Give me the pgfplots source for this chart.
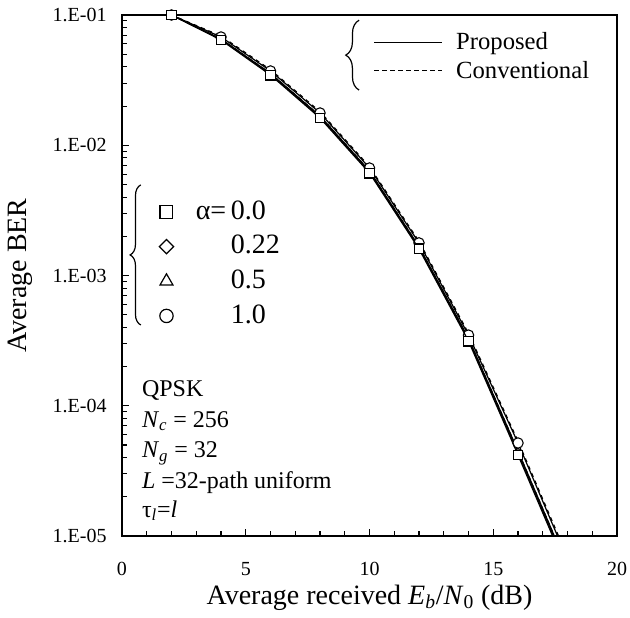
\documentclass[border=0pt]{standalone}
\usepackage{pgfplots}
\pgfplotsset{compat=1.18}
\usepackage{fontspec}
\setmainfont{Liberation Serif}
\usetikzlibrary{decorations.pathreplacing,calc}

\begin{document}
\begin{tikzpicture}
\begin{pgfinterruptboundingbox}
\begin{axis}[
  name=main,
  scale only axis,
  width=371.25pt, height=390.75pt,
  ymode=log,
  xmin=0, xmax=20,
  ymin=1e-5, ymax=1e-1,
  xtick={0,5,10,15,20},
  minor x tick num=4,
  ytick={1e-5,1e-4,1e-3,1e-2,1e-1},
  yticklabels={1.E-05,1.E-04,1.E-03,1.E-02,1.E-01},
  xtick pos=bottom, ytick pos=left,
  tick align=inside,
  major tick length=5pt, minor tick length=3.5pt,
  tick style={black, line width=0.8pt},
  axis line style={line width=0.9pt},
  /pgf/number format/assume math mode=true,
  ticklabel style={font=\fontsize{15}{17}\selectfont},
  xticklabel style={yshift=-16pt},
  yticklabel style={xshift=-8pt},
  xlabel={Average received \textit{E}\textsubscript{\textit{b}}/\textit{N}\textsubscript{0} (dB)},
  ylabel={Average BER},
  label style={font=\fontsize{21}{23}\selectfont},
  xlabel style={at={(axis description cs:0.5,-0.118)}, anchor=center},
  ylabel style={at={(axis description cs:-0.206,0.5)}, anchor=center},
  clip mode=individual,
  legend style={at={(axis description cs:0.057,0.652)}, anchor=north west,
    draw=none, fill=none, font=\fontsize{21}{23}\selectfont,
    nodes={inner sep=0pt, text height=15pt, text depth=4pt},
    row sep=7pt, column sep=13pt, cells={anchor=west}},
  legend image code/.code={\path[draw=none] (-9pt,0pt) rectangle (9pt,0.1pt); \draw[#1] plot coordinates {(0pt,0pt)};},
  every axis plot/.append style={black, line width=0.9pt, mark options={solid, fill=white, line width=0.8pt}},
]
% conventional
\addplot[dashed, mark=none, forget plot] coordinates {
  (2,0.1) (4,0.0655) (6,0.0356) (8,0.0168) (10,6.35e-3) (12,1.67e-3) (14,3.3e-4) (16,4.5e-5) (18,5.8e-6)};
\addplot[dashed, mark=none, forget plot] coordinates {
  (2,0.1) (4,0.069) (6,0.0380) (8,0.0181) (10,6.85e-3) (12,1.83e-3) (14,3.6e-4) (16,5.35e-5) (18,6.9e-6)};
% proposed, alpha = 0.22
\addplot[mark=diamond*, mark size=2.5pt, mark indices={1,...,8}, forget plot] coordinates {
  (2,0.1) (4,0.065) (6,0.0352) (8,0.0165) (10,6.25e-3) (12,1.64e-3) (14,3.22e-4) (16,4.35e-5) (18,5.6e-6)};
% proposed, alpha = 0.5
\addplot[mark=triangle*, mark size=2.5pt, mark indices={1,...,8}, forget plot] coordinates {
  (2,0.1) (4,0.0655) (6,0.0356) (8,0.0168) (10,6.35e-3) (12,1.67e-3) (14,3.3e-4) (16,4.5e-5) (18,5.8e-6)};
% proposed, alpha = 1.0
\addplot[mark=*, mark size=3.9pt, mark indices={1,...,8}, forget plot] coordinates {
  (2,0.1) (4,0.0678) (6,0.0372) (8,0.0177) (10,6.69e-3) (12,1.78e-3) (14,3.49e-4) (16,5.18e-5) (18,6.6e-6)};
% proposed, alpha = 0.0
\addplot[mark=square*, mark size=3.7pt, mark indices={1,...,8}, forget plot] coordinates {
  (2,0.1) (4,0.0643) (6,0.0346) (8,0.0162) (10,6.12e-3) (12,1.6e-3) (14,3.14e-4) (16,4.19e-5) (18,5.4e-6)};

\addlegendimage{only marks, mark=square*, mark size=4.8pt, mark options={fill=white, line width=0.9pt}}
\addlegendentry{α=\,0.0}
\addlegendimage{only marks, mark=square*, mark size=3.8pt, mark options={fill=white, line width=0.9pt, rotate=45}}
\addlegendentry{\phantom{α=\,}0.22}
\addlegendimage{only marks, mark=triangle*, mark size=5.6pt, mark options={fill=white, line width=0.9pt}}
\addlegendentry{\phantom{α=\,}0.5}
\addlegendimage{only marks, mark=*, mark size=5pt, mark options={fill=white, line width=0.9pt}}
\addlegendentry{\phantom{α=\,}1.0}

\draw[line width=0.9pt, decorate, decoration={brace, amplitude=8pt}]
  (axis description cs:0.038,0.405) -- (axis description cs:0.038,0.674);
\draw[line width=0.9pt, decorate, decoration={brace, amplitude=10pt}]
  (axis description cs:0.479,0.856) -- (axis description cs:0.479,0.99);

\begin{scope}[font=\fontsize{18}{20}\selectfont]
\node[anchor=base west, inner sep=0pt] at (axis description cs:0.040,0.267) {QPSK};
\node[anchor=base west, inner sep=0pt] at (axis description cs:0.040,0.209) {\textit{N}\textsubscript{\textit{c}} = 256};
\node[anchor=base west, inner sep=0pt] at (axis description cs:0.040,0.150) {\textit{N}\textsubscript{\textit{g}} = 32};
\node[anchor=base west, inner sep=0pt] at (axis description cs:0.040,0.092) {\textit{L} =32-path uniform};
\node[anchor=base west, inner sep=0pt] at (axis description cs:0.040,0.036) {τ\textsubscript{\textit{l}}=\textit{l}};
\end{scope}
\end{axis}

\begin{axis}[
  scale only axis,
  width=371.25pt, height=390.75pt,
  xmin=0, xmax=20, ymin=0, ymax=1,
  hide axis,
  legend style={at={(axis description cs:0.50,0.977)}, anchor=north west,
    draw=none, fill=none, font=\fontsize{18.5}{20}\selectfont,
    row sep=3pt, column sep=8pt, cells={anchor=west}},
  legend image code/.code={\draw[#1] (0pt,0pt) -- (51pt,0pt);},
]
\addlegendimage{black, line width=0.8pt}
\addlegendentry{Proposed}
\addlegendimage{black, line width=0.8pt, dash pattern=on 3.5pt off 2.5pt}
\addlegendentry{Conventional}
\end{axis}
\draw[line width=1.6pt] (main.south west) -- (main.north west);
\draw[line width=1.6pt] (main.south west) -- (main.south east);
\end{pgfinterruptboundingbox}
\path[use as bounding box] ($(main.south west)+(-91.5pt,-60.75pt)$) rectangle ($(main.north east)+(9.75pt,11.25pt)$);
\end{tikzpicture}
\end{document}
